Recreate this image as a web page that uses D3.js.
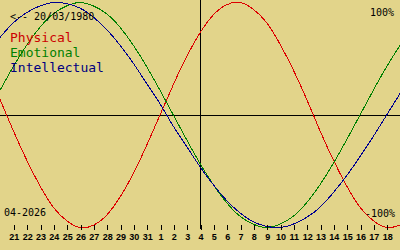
<!DOCTYPE html>
<html>
<head>
<meta charset="utf-8">
<script src="https://cdn.jsdelivr.net/npm/d3@7"></script>
<style>
  body { margin: 0; background: #e2d48a; }
  svg { display: block; }
  text { font-family: 'DejaVu Sans Mono', monospace; }
</style>
</head>
<body>
<div id="chart"></div>
<script>
const W = 400
const H = 250
const bg = '#e2d48a'

// day labels on the axis, index 0 = 21/03/2026 ... index 28 = 18/04/2026
const dayLabels = ['21', '22', '23', '24', '25', '26', '27', '28', '29', '30', '31',
  '1', '2', '3', '4', '5', '6', '7', '8', '9', '10', '11', '12', '13', '14', '15', '16', '17', '18']
const todayIndex = 14

// curve values per day, index -1 (left edge) to 29 (right edge)
const dayIndex = d3.range(-1, 30)
const physical = [0.14, -0.14, -0.40, -0.63, -0.82, -0.94, -1.00, -0.98, -0.89, -0.73, -0.52, -0.27,
  0.00, 0.27, 0.52, 0.73, 0.89, 0.98, 1.00, 0.94, 0.82, 0.63, 0.40, 0.14, -0.14, -0.40, -0.63,
  -0.82, -0.94, -1.00, -0.98]
const emotional = [0.22, 0.43, 0.62, 0.78, 0.90, 0.97, 1.00, 0.97, 0.90, 0.78, 0.62, 0.43, 0.22,
  0.00, -0.22, -0.43, -0.62, -0.78, -0.90, -0.97, -1.00, -0.97, -0.90, -0.78, -0.62, -0.43,
  -0.22, 0.00, 0.22, 0.43, 0.62]
const intellectual = [0.69, 0.82, 0.91, 0.97, 1.00, 0.99, 0.95, 0.87, 0.76, 0.62, 0.46, 0.28, 0.10,
  -0.10, -0.28, -0.46, -0.62, -0.76, -0.87, -0.95, -0.99, -1.00, -0.97, -0.91, -0.82, -0.69,
  -0.54, -0.37, -0.19, 0.00, 0.19]

const series = [
  {name: 'Physical', values: physical, color: '#dd0000', text: '#cc0000'},
  {name: 'Emotional', values: emotional, color: '#008000', text: '#008000'},
  {name: 'Intellectual', values: intellectual, color: '#000090', text: '#000080'}
]

const svg = d3.select('#chart').append('svg')
  .attr('width', W)
  .attr('height', H)

svg.append('rect')
  .attr('width', W)
  .attr('height', H)
  .style('fill', bg)

const xScale = d3.scaleLinear()
  .domain([-1, 29])
  .range([0, W])
const yScale = d3.scaleLinear()
  .domain([-1, 1])
  .range([227.5, 2.5])

// reference lines
svg.append('line')
  .attr('x1', 0).attr('x2', W)
  .attr('y1', Math.round(yScale(0)) + 0.5).attr('y2', Math.round(yScale(0)) + 0.5)
  .style('stroke', '#000')
svg.append('line')
  .attr('x1', xScale(todayIndex) + 0.5).attr('x2', xScale(todayIndex) + 0.5)
  .attr('y1', 0).attr('y2', 229)
  .style('stroke', '#000')

// curves
const line = d3.line()
  .x((d, i) => xScale(dayIndex[i]))
  .y(d => yScale(d))
  .curve(d3.curveNatural)

series.forEach(s => {
  svg.append('path')
    .datum(s.values)
    .attr('d', line)
    .style('fill', 'none')
    .style('stroke', s.color)
    .style('stroke-width', 1)
    .style('shape-rendering', 'crispEdges')
})

// day axis
const axis = svg.append('g')
  .attr('transform', 'translate(0.5, 225)')
  .call(d3.axisBottom(xScale)
    .tickValues(d3.range(dayLabels.length))
    .tickFormat(i => dayLabels[i])
    .tickSize(5)
    .tickPadding(4))
axis.select('.domain').remove()
axis.selectAll('line').style('stroke', '#000').style('shape-rendering', 'crispEdges')
axis.selectAll('text')
  .style('font-family', "'Liberation Sans', sans-serif")
  .style('font-weight', 'bold')
  .style('font-size', '9px')
  .style('fill', '#000')

// labels
svg.append('text')
  .attr('x', 10).attr('y', 20)
  .style('font-size', '10px')
  .text('<-- 20/03/1980')
svg.append('text')
  .attr('x', 394).attr('y', 16)
  .attr('text-anchor', 'end')
  .style('font-size', '10px')
  .text('100%')
svg.append('text')
  .attr('x', 395).attr('y', 217)
  .attr('text-anchor', 'end')
  .style('font-size', '10px')
  .text('-100%')
svg.append('text')
  .attr('x', 4).attr('y', 216)
  .style('font-size', '10px')
  .text('04-2026')

series.forEach((s, i) => {
  svg.append('text')
    .attr('x', 10).attr('y', 42 + i * 15)
    .style('font-size', '13px')
    .style('fill', s.text)
    .text(s.name)
})
</script>
</body>
</html>
